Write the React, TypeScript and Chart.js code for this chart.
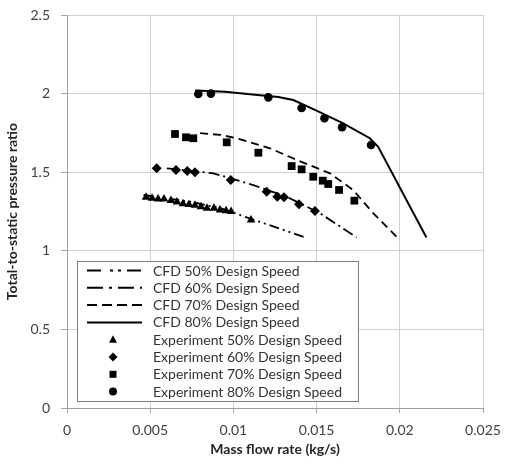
import React, { useEffect, useRef } from "react";
import { Chart, registerables } from "chart.js";

Chart.register(...registerables);

// ---- Data ----
const cfd50X = [0.0046, 0.0075, 0.0092, 0.0112, 0.0143];
const cfd50Y = [1.355, 1.31, 1.272, 1.198, 1.086];

const cfd60X = [0.006, 0.0088, 0.0112, 0.0132, 0.0152, 0.0174];
const cfd60Y = [1.525, 1.493, 1.418, 1.344, 1.239, 1.086];

const cfd70X = [0.008, 0.0092, 0.0102, 0.0122, 0.0138, 0.0158, 0.0172, 0.0184, 0.0198];
const cfd70Y = [1.748, 1.738, 1.716, 1.652, 1.578, 1.493, 1.387, 1.239, 1.09];

const cfd80X = [0.0077, 0.0095, 0.0116, 0.0127, 0.0136, 0.0149, 0.0166, 0.0182, 0.0187, 0.0216];
const cfd80Y = [2.02, 2.012, 1.99, 1.978, 1.959, 1.896, 1.811, 1.716, 1.662, 1.085];

const exp50X = [0.00475, 0.00511, 0.00547, 0.00583, 0.00625, 0.00661, 0.00697, 0.00733, 0.00769, 0.00805, 0.00841, 0.00883, 0.00919, 0.00956, 0.00986, 0.01106];
const exp50Y = [1.34, 1.335, 1.33, 1.33, 1.32, 1.31, 1.3, 1.295, 1.29, 1.28, 1.27, 1.27, 1.26, 1.255, 1.25, 1.196];

const exp60X = [0.00539, 0.00655, 0.00723, 0.00769, 0.00984, 0.012, 0.01264, 0.01304, 0.01394, 0.0149];
const exp60Y = [1.525, 1.514, 1.508, 1.499, 1.45, 1.376, 1.344, 1.34, 1.296, 1.253];

const exp70X = [0.00649, 0.00715, 0.00759, 0.0096, 0.0115, 0.0135, 0.0141, 0.0148, 0.01537, 0.0157, 0.01635, 0.01727];
const exp70Y = [1.743, 1.722, 1.716, 1.69, 1.624, 1.539, 1.518, 1.471, 1.446, 1.425, 1.387, 1.319];

const exp80X = [0.00789, 0.00865, 0.0121, 0.0141, 0.01547, 0.01653, 0.01827];
const exp80Y = [1.997, 2.0, 1.976, 1.908, 1.843, 1.786, 1.673];

const legendLabels = [
  "CFD 50% Design Speed",
  "CFD 60% Design Speed",
  "CFD 70% Design Speed",
  "CFD 80% Design Speed",
  "Experiment 50% Design Speed",
  "Experiment 60% Design Speed",
  "Experiment 70% Design Speed",
  "Experiment 80% Design Speed",
];

const xTicks = [0, 0.005, 0.01, 0.015, 0.02, 0.025];
const yTicks = [0, 0.5, 1, 1.5, 2, 2.5];

const FONT = "Lato, 'Open Sans', sans-serif";

const pts = (xs: number[], ys: number[]) => xs.map((x, i) => ({ x, y: ys[i] }));

const lineDashes = [
  [10, 4, 2, 4, 2, 4],
  [11, 4, 2, 4],
  [8, 5],
  [],
];
const legendDashes = [
  [14, 9, 3, 5, 3, 6],
  [16, 6, 3, 6],
  [10, 5],
  [],
];
const markerStyles = ["triangle", "rectRot", "rect", "circle"];

const legendPlugin = {
  id: "customLegend",
  afterDraw(chart: any) {
    const ctx = chart.ctx as CanvasRenderingContext2D;
    ctx.save();
    const bx = 77, by = 261, bw = 281, bh = 140;
    ctx.fillStyle = "#ffffff";
    ctx.fillRect(bx, by, bw, bh);
    ctx.strokeStyle = "#7f7f7f";
    ctx.lineWidth = 1;
    ctx.setLineDash([]);
    ctx.strokeRect(bx + 0.5, by + 0.5, bw, bh);
    const startY = 270.5;
    const step = 17.3;
    ctx.font = `14px ${FONT}`;
    ctx.textBaseline = "middle";
    ctx.textAlign = "left";
    for (let i = 0; i < legendLabels.length; i++) {
      const y = startY + i * step;
      ctx.strokeStyle = "#000";
      ctx.fillStyle = "#000";
      if (i < 4) {
        ctx.lineWidth = 2;
        ctx.setLineDash(legendDashes[i]);
        ctx.beginPath();
        ctx.moveTo(87, y);
        ctx.lineTo(142, y);
        ctx.stroke();
        ctx.setLineDash([]);
      } else {
        const cx = 113;
        const k = i - 4;
        ctx.beginPath();
        if (k === 0) {
          ctx.moveTo(cx, y - 4.5);
          ctx.lineTo(cx + 4, y + 3);
          ctx.lineTo(cx - 4, y + 3);
          ctx.closePath();
        } else if (k === 1) {
          ctx.moveTo(cx, y - 4.5);
          ctx.lineTo(cx + 4.5, y);
          ctx.lineTo(cx, y + 4.5);
          ctx.lineTo(cx - 4.5, y);
          ctx.closePath();
        } else if (k === 2) {
          ctx.rect(cx - 3.5, y - 3.5, 7, 7);
        } else {
          ctx.arc(cx, y, 4, 0, Math.PI * 2);
        }
        ctx.fill();
      }
      ctx.fillStyle = "#333333";
      ctx.fillText(legendLabels[i], 153, y + 0.5);
    }
    ctx.restore();
  },
};

export default function App() {
  const ref = useRef<HTMLCanvasElement | null>(null);

  useEffect(() => {
    if (!ref.current) return;
    const cfdSeries = [
      pts(cfd50X, cfd50Y),
      pts(cfd60X, cfd60Y),
      pts(cfd70X, cfd70Y),
      pts(cfd80X, cfd80Y),
    ];
    const expSeries = [
      pts(exp50X, exp50Y),
      pts(exp60X, exp60Y),
      pts(exp70X, exp70Y),
      pts(exp80X, exp80Y),
    ];
    const markerRadius = [5, 5, 5.5, 4.3];
    const datasets: any[] = [];
    cfdSeries.forEach((d, i) => {
      datasets.push({
        label: legendLabels[i],
        data: d,
        showLine: true,
        borderColor: "#000",
        backgroundColor: "#000",
        borderWidth: i === 3 ? 2 : 1.8,
        borderDash: lineDashes[i],
        pointRadius: 0,
        tension: 0,
      });
    });
    expSeries.forEach((d, i) => {
      datasets.push({
        label: legendLabels[i + 4],
        data: d,
        showLine: false,
        pointStyle: markerStyles[i],
        pointRadius: markerRadius[i],
        backgroundColor: "#000",
        borderColor: "#000",
        borderWidth: 0,
      });
    });

    const tickFont = { family: FONT, size: 14 };
    const fmt = (v: any) => String(Number(Number(v).toFixed(4)));

    const chart = new Chart(ref.current, {
      type: "scatter",
      data: { datasets },
      plugins: [legendPlugin],
      options: {
        responsive: false,
        animation: false,
        layout: { padding: { top: 15, right: 27, left: 0, bottom: 0 } },
        plugins: {
          legend: { display: false },
          tooltip: { enabled: false },
        },
        scales: {
          x: {
            type: "linear",
            min: 0,
            max: 0.025,
            afterBuildTicks: (s: any) => {
              s.ticks = xTicks.map((v) => ({ value: v }));
            },
            ticks: { font: tickFont, color: "#404040", padding: 9, callback: fmt, maxRotation: 0 },
            grid: { color: "#d0d0d0", tickColor: "#a6a6a6", tickLength: 5, lineWidth: 1 },
            border: { color: "#a0a0a0" },
            title: {
              display: true,
              text: "Mass flow rate (kg/s)",
              font: { family: FONT, size: 14, weight: "bold" },
              color: "#262626",
              padding: { top: 0, bottom: 8 },
            },
            afterFit: (s: any) => {
              s.height = 58;
              s.paddingLeft = 0;
              s.paddingRight = 0;
              s.paddingTop = 0;
              s.paddingBottom = 0;
            },
          },
          y: {
            type: "linear",
            min: 0,
            max: 2.5,
            afterBuildTicks: (s: any) => {
              s.ticks = yTicks.map((v) => ({ value: v }));
            },
            ticks: { font: tickFont, color: "#404040", padding: 11, callback: fmt },
            grid: { color: "#d0d0d0", tickColor: "#a6a6a6", tickLength: 6, lineWidth: 1 },
            border: { color: "#a0a0a0" },
            title: {
              display: true,
              text: "Total-to-static pressure ratio",
              font: { family: FONT, size: 14, weight: "bold" },
              color: "#262626",
              padding: { top: 4, bottom: 0 },
            },
            afterFit: (s: any) => {
              s.width = 67;
              s.paddingLeft = 0;
              s.paddingRight = 0;
              s.paddingTop = 0;
              s.paddingBottom = 0;
            },
          },
        },
      } as any,
    });
    return () => chart.destroy();
  }, []);

  return (
    <div style={{ position: "fixed", left: 0, top: 0, width: 510, height: 466, background: "#fff" }}>
      <canvas ref={ref} width={510} height={466} style={{ display: "block" }} />
    </div>
  );
}
